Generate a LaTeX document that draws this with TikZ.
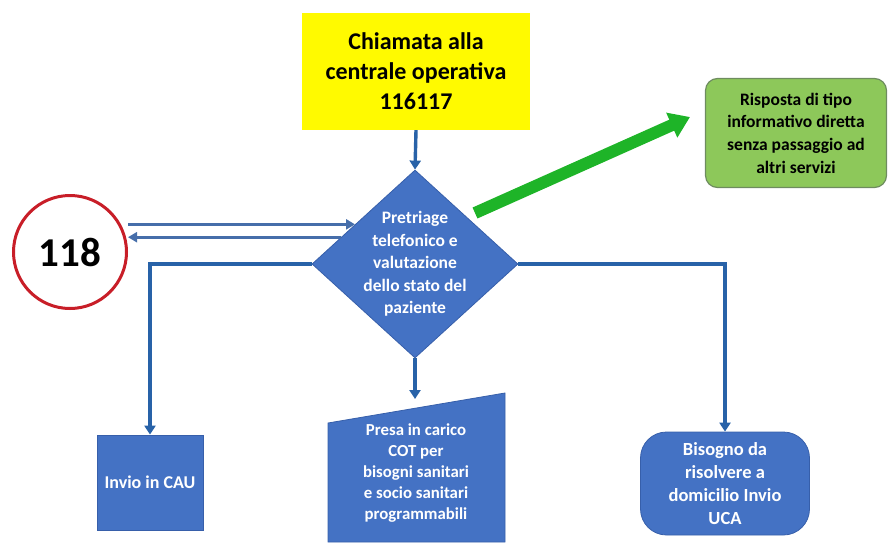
\documentclass[tikz,border=0pt]{standalone}
\usepackage{fontspec}
\setmainfont{Carlito}
\usetikzlibrary{shapes.geometric,arrows.meta,calc}
\definecolor{boxblue}{RGB}{68,114,196}
\definecolor{boxedge}{RGB}{55,95,170}
\definecolor{lineblue}{RGB}{40,98,168}
\definecolor{lineblue2}{RGB}{70,110,170}
\definecolor{ylw}{RGB}{255,250,0}
\definecolor{gfill}{RGB}{141,200,90}
\definecolor{gedge}{RGB}{110,140,95}
\definecolor{garrow}{RGB}{30,180,40}
\definecolor{cred}{RGB}{200,30,40}
\tikzset{
  x=1pt, y=-1pt,
  bluebox/.style={fill=boxblue, draw=boxedge, line width=0.8pt, text=white, font=\bfseries, align=center, inner sep=0pt},
  conn/.style={draw=lineblue, line width=3.4pt, -{Triangle[width=11pt,length=9pt]}},
  conn2/.style={draw=lineblue2, line width=3pt},
}
\begin{document}
\begin{tikzpicture}
\useasboundingbox (0,0) rectangle (888,543);
% yellow box
\node[fill=ylw, minimum width=228pt, minimum height=117pt, inner sep=0pt, align=center,
      font=\fontsize{24}{30}\selectfont\bfseries] (call) at (416,71.5)
      {Chiamata alla\\centrale operativa\\116117};
% diamond
\node[diamond, fill=boxblue, draw=boxedge, line width=0.8pt, minimum width=206pt, minimum height=188pt, inner sep=0pt] (d) at (415,264) {};
\node[text=white, font=\fontsize{17.5}{22.5}\selectfont\bfseries, align=center] (dt) at (d.center)
      {Pretriage\\telefonico e\\valutazione\\dello stato del\\paziente};
% 118 circle
\node[circle, draw=cred, line width=3pt, minimum size=113pt, inner sep=0pt, fill=white,
      font=\fontsize{41}{42}\selectfont\bfseries] (c118) at (70,252) {118};
% green box
\node[fill=gfill, draw=gedge, line width=1.2pt, rounded corners=12pt, minimum width=181pt, minimum height=109pt,
      inner sep=0pt, align=center, font=\fontsize{17.5}{22.7}\selectfont\bfseries] (info) at (796,133)
      {Risposta di tipo\\informativo diretta\\senza passaggio ad\\altri servizi};
% bottom boxes
\node[bluebox, minimum width=106pt, minimum height=95pt, font=\fontsize{18}{20}\selectfont\bfseries] (cau) at (150,482.5) {Invio in CAU};
\path[fill=boxblue, draw=boxedge, line width=0.8pt] (328,423) -- (505,393) -- (505,542) -- (328,542) -- cycle;
\node[text=white, align=center, font=\fontsize{16.8}{21}\selectfont\bfseries] (cot) at (416,473)
      {Presa in carico\\COT per\\bisogni sanitari\\e socio sanitari\\programmabili};
\node[bluebox, rounded corners=26pt, minimum width=169pt, minimum height=103pt, font=\fontsize{18.5}{23}\selectfont\bfseries] (uca) at (725,483.5)
      {Bisogno da\\risolvere a\\domicilio Invio\\UCA};
% connectors
\draw[conn] (call.south) -- (d.north);
\coordinate (p1) at ($(d.north)!0.58!(d.west)$);
\coordinate (p2) at ($(d.north)!0.716!(d.west)$);
\draw[conn2, -{Triangle[width=10pt,length=9pt]}] (p1 -| c118.east) -- (p1);
\draw[conn2, -{Triangle[width=10pt,length=9pt]}] (p2) -- (p2 -| c118.east);
\draw[conn] (d.west) -| (cau.north);
\coordinate (cotin) at (415,399);
\draw[conn] (d.south) -- (cotin);
\draw[conn] (d.east) -| (uca.north);
\coordinate (gs) at (475,213);
\coordinate (ge) at (690,117);
\draw[garrow, line width=12pt, -{Triangle[width=26pt,length=20pt]}] (gs) -- (ge);
\end{tikzpicture}
\end{document}
